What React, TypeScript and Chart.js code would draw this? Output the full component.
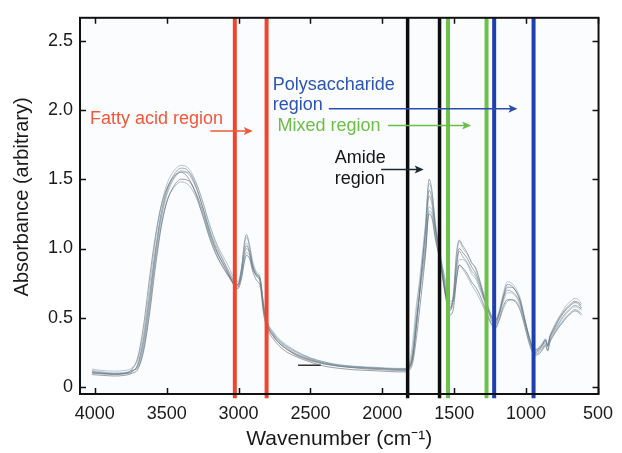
import React, { useEffect, useRef } from 'react';
import { Chart, registerables } from 'chart.js';

Chart.register(...registerables);

// ---------- data ----------
const WAVENUMBERS = [
  4020, 3950, 3870, 3790, 3740, 3700, 3660, 3620, 3580, 3540, 3500, 3450, 3400, 3350, 3300,
  3250, 3200, 3150, 3100, 3060, 3030, 3005, 2980, 2960, 2945, 2925, 2900, 2875, 2850, 2825,
  2800, 2760, 2720, 2660, 2600, 2500, 2400, 2300, 2200, 2100, 2000, 1900, 1840, 1815, 1790,
  1760, 1730, 1700, 1675, 1655, 1630, 1605, 1580, 1555, 1530, 1505, 1485, 1465, 1440, 1410,
  1380, 1350, 1320, 1290, 1260, 1235, 1215, 1190, 1160, 1130, 1100, 1070, 1040, 1010, 980,
  955, 935, 910, 885, 865, 850, 835, 810, 780, 750, 720, 690, 660, 635, 615,
];

const SPECTRUM_1 = [
  0.11, 0.10, 0.095, 0.10, 0.115, 0.16, 0.33, 0.62, 0.95, 1.22, 1.40, 1.51, 1.56, 1.54, 1.45,
  1.30, 1.13, 1.00, 0.90, 0.82, 0.76, 0.74, 0.82, 0.95, 1.00, 0.97, 0.86, 0.80, 0.76, 0.55,
  0.45, 0.38, 0.33, 0.28, 0.24, 0.20, 0.17, 0.15, 0.14, 0.135, 0.13, 0.125, 0.125, 0.14, 0.22,
  0.50, 0.78, 1.05, 1.38, 1.32, 1.12, 0.98, 0.82, 0.66, 0.56, 0.62, 0.85, 0.98, 0.94, 0.90,
  0.84, 0.80, 0.72, 0.63, 0.55, 0.49, 0.47, 0.52, 0.63, 0.70, 0.69, 0.66, 0.60, 0.48, 0.36,
  0.28, 0.26, 0.27, 0.30, 0.33, 0.29, 0.35, 0.40, 0.45, 0.50, 0.54, 0.57, 0.59, 0.58, 0.56,
];

const SPECTRUM_2 = [
  0.13, 0.12, 0.115, 0.12, 0.14, 0.20, 0.40, 0.72, 1.05, 1.30, 1.46, 1.56, 1.60, 1.58, 1.49,
  1.34, 1.17, 1.03, 0.93, 0.85, 0.78, 0.76, 0.86, 1.02, 1.08, 1.02, 0.90, 0.83, 0.79, 0.58,
  0.47, 0.40, 0.35, 0.30, 0.26, 0.21, 0.18, 0.16, 0.15, 0.145, 0.14, 0.135, 0.135, 0.15, 0.26,
  0.58, 0.88, 1.18, 1.47, 1.40, 1.18, 1.02, 0.85, 0.68, 0.58, 0.66, 0.92, 1.05, 1.00, 0.96,
  0.90, 0.85, 0.76, 0.66, 0.57, 0.50, 0.48, 0.54, 0.67, 0.76, 0.75, 0.71, 0.64, 0.50, 0.37,
  0.29, 0.27, 0.29, 0.32, 0.35, 0.31, 0.37, 0.43, 0.49, 0.54, 0.59, 0.62, 0.64, 0.63, 0.60,
];

const SPECTRUM_3 = [
  0.09, 0.085, 0.08, 0.085, 0.10, 0.13, 0.26, 0.52, 0.85, 1.14, 1.33, 1.45, 1.50, 1.49, 1.41,
  1.27, 1.10, 0.97, 0.87, 0.79, 0.73, 0.71, 0.78, 0.90, 0.95, 0.93, 0.83, 0.77, 0.73, 0.52,
  0.42, 0.35, 0.30, 0.25, 0.22, 0.18, 0.15, 0.135, 0.125, 0.12, 0.115, 0.11, 0.11, 0.12, 0.17,
  0.38, 0.66, 0.95, 1.25, 1.22, 1.06, 0.94, 0.78, 0.62, 0.52, 0.57, 0.76, 0.88, 0.86, 0.82,
  0.76, 0.72, 0.66, 0.58, 0.50, 0.45, 0.43, 0.48, 0.58, 0.63, 0.63, 0.61, 0.55, 0.44, 0.32,
  0.25, 0.23, 0.24, 0.27, 0.30, 0.26, 0.32, 0.37, 0.42, 0.46, 0.50, 0.53, 0.55, 0.54, 0.52,
];

const SPECTRUM_4 = [
  0.12, 0.11, 0.10, 0.105, 0.12, 0.14, 0.28, 0.56, 0.92, 1.20, 1.38, 1.50, 1.55, 1.55, 1.48,
  1.34, 1.16, 1.02, 0.90, 0.81, 0.75, 0.73, 0.84, 1.00, 1.04, 0.99, 0.87, 0.81, 0.77, 0.60,
  0.47, 0.39, 0.34, 0.29, 0.25, 0.205, 0.175, 0.155, 0.145, 0.14, 0.135, 0.13, 0.13, 0.16, 0.32,
  0.62, 0.80, 1.00, 1.30, 1.28, 1.10, 0.95, 0.84, 0.70, 0.60, 0.64, 0.80, 0.92, 0.92, 0.89,
  0.82, 0.78, 0.70, 0.62, 0.54, 0.48, 0.46, 0.51, 0.61, 0.68, 0.68, 0.65, 0.59, 0.47, 0.35,
  0.27, 0.25, 0.26, 0.29, 0.32, 0.30, 0.34, 0.39, 0.44, 0.49, 0.53, 0.56, 0.58, 0.57, 0.55,
];

const SPECTRUM_5 = [
  0.10, 0.095, 0.09, 0.095, 0.11, 0.17, 0.36, 0.66, 0.98, 1.25, 1.42, 1.53, 1.58, 1.56, 1.46,
  1.30, 1.12, 0.98, 0.88, 0.80, 0.74, 0.72, 0.84, 1.04, 1.10, 1.03, 0.88, 0.82, 0.78, 0.56,
  0.44, 0.37, 0.32, 0.27, 0.23, 0.19, 0.165, 0.15, 0.14, 0.13, 0.125, 0.12, 0.12, 0.13, 0.20,
  0.46, 0.80, 1.15, 1.50, 1.42, 1.16, 1.00, 0.80, 0.64, 0.55, 0.68, 0.96, 1.06, 1.02, 0.97,
  0.90, 0.86, 0.76, 0.64, 0.54, 0.47, 0.45, 0.51, 0.64, 0.72, 0.72, 0.69, 0.62, 0.49, 0.36,
  0.28, 0.25, 0.27, 0.31, 0.34, 0.30, 0.36, 0.42, 0.48, 0.53, 0.57, 0.60, 0.62, 0.61, 0.59,
];

const SPECTRUM_6 = [
  0.115, 0.105, 0.10, 0.10, 0.12, 0.15, 0.30, 0.58, 0.90, 1.16, 1.34, 1.44, 1.48, 1.46, 1.38,
  1.24, 1.08, 0.95, 0.85, 0.78, 0.74, 0.73, 0.80, 0.92, 0.97, 0.95, 0.85, 0.80, 0.76, 0.57,
  0.46, 0.39, 0.34, 0.29, 0.255, 0.21, 0.18, 0.16, 0.15, 0.14, 0.135, 0.13, 0.13, 0.145, 0.24,
  0.52, 0.74, 0.98, 1.27, 1.25, 1.08, 0.96, 0.86, 0.74, 0.62, 0.63, 0.78, 0.88, 0.85, 0.80,
  0.74, 0.69, 0.63, 0.56, 0.49, 0.44, 0.42, 0.47, 0.56, 0.62, 0.63, 0.62, 0.57, 0.46, 0.34,
  0.26, 0.24, 0.25, 0.28, 0.31, 0.27, 0.33, 0.38, 0.43, 0.47, 0.51, 0.54, 0.56, 0.55, 0.53,
];

const SPECTRUM_7 = [
  0.105, 0.10, 0.095, 0.10, 0.13, 0.22, 0.45, 0.78, 1.08, 1.30, 1.43, 1.52, 1.55, 1.51, 1.40,
  1.24, 1.07, 0.94, 0.85, 0.79, 0.75, 0.74, 0.85, 0.98, 1.02, 0.98, 0.86, 0.81, 0.78, 0.58,
  0.45, 0.37, 0.32, 0.27, 0.235, 0.195, 0.17, 0.155, 0.145, 0.14, 0.135, 0.13, 0.13, 0.14, 0.21,
  0.48, 0.82, 1.12, 1.42, 1.36, 1.14, 0.99, 0.81, 0.65, 0.57, 0.65, 0.88, 1.00, 0.97, 0.93,
  0.87, 0.82, 0.74, 0.64, 0.56, 0.50, 0.48, 0.53, 0.65, 0.74, 0.73, 0.69, 0.62, 0.49, 0.37,
  0.29, 0.27, 0.28, 0.31, 0.34, 0.30, 0.36, 0.41, 0.47, 0.52, 0.56, 0.59, 0.61, 0.60, 0.57,
];

const ARTIFACT_WAVENUMBERS = [2586, 2428];
const ARTIFACT_VALUES = [0.157, 0.157];

// region boundary lines (cm-1)
const FATTY_ACID_LINES = [3026, 2805];
const AMIDE_LINES = [1824, 1602];
const MIXED_LINES = [1543, 1275];
const POLYSACCHARIDE_LINES = [1222, 948];

// axis ticks
const X_TICKS = [4000, 3500, 3000, 2500, 2000, 1500, 1000, 500];
const Y_TICKS = [0, 0.5, 1.0, 1.5, 2.0, 2.5];

const X_MIN = 496;
const X_MAX = 4103;
const Y_MIN = -0.05;
const Y_MAX = 2.665;
const LINE_FOOT = -0.08;

// annotation texts: label, wavenumber (left edge), absorbance (centre)
const ANNOTATION_LABELS = ['Fatty acid region', 'Polysaccharide', 'region', 'Mixed region', 'Amide', 'region'];
const ANNOTATION_X = [4034, 2763, 2763, 2729, 2331, 2331];
const ANNOTATION_Y = [1.938, 2.183, 2.033, 1.883, 1.653, 1.498];
const ANNOTATION_GROUP = ['fatty', 'poly', 'poly', 'mixed', 'amide', 'amide'];

// arrows: from wavenumber, to wavenumber, absorbance
const ARROW_FROM = [3196, 2372, 1960, 2008];
const ARROW_TO = [2901, 1060, 1382, 1712];
const ARROW_Y = [1.848, 2.009, 1.888, 1.57];
const ARROW_GROUP = ['fatty', 'poly', 'mixed', 'amide'];

// ---------- styles ----------
const FONT = '"Liberation Sans", Arial, Helvetica, sans-serif';
const TEXT_COLORS: Record<string, string> = {
  fatty: '#f0573b',
  poly: '#2b54b3',
  mixed: '#6cbf46',
  amide: '#151515',
};
const LINE_COLORS: Record<string, string> = {
  fatty: '#ee4530',
  poly: '#1f3fae',
  mixed: '#6dc14b',
  amide: '#0d0d0d',
};
const ARROW_COLORS: Record<string, string> = {
  fatty: '#f0573b',
  poly: '#2b4fb0',
  mixed: '#6cbf46',
  amide: '#1a2a30',
};
const SPECTRUM_COLORS = [
  'rgba(100,116,126,0.6)',
  'rgba(120,150,170,0.6)',
  'rgba(70,80,88,0.6)',
  'rgba(130,160,180,0.6)',
  'rgba(88,98,106,0.6)',
  'rgba(110,140,158,0.6)',
  'rgba(60,68,74,0.55)',
];

const framePlugin = {
  id: 'frameAndNotes',
  beforeDatasetsDraw(chart: any) {
    const { ctx, chartArea: a } = chart;
    ctx.save();
    ctx.fillStyle = '#fbfcfe';
    ctx.fillRect(a.left, a.top, a.right - a.left, a.bottom - a.top);
    ctx.restore();
  },
  afterDraw(chart: any) {
    const { ctx, chartArea: a, scales } = chart;
    const xs = scales.x;
    const ys = scales.y;
    ctx.save();
    // frame
    ctx.strokeStyle = '#111';
    ctx.lineWidth = 2;
    ctx.strokeRect(a.left, a.top, a.right - a.left, a.bottom - a.top);
    // inward ticks on all sides
    ctx.lineWidth = 1.5;
    const tl = 6;
    ctx.beginPath();
    X_TICKS.forEach((v) => {
      const px = Math.round(xs.getPixelForValue(v)) + 0.5;
      ctx.moveTo(px, a.bottom);
      ctx.lineTo(px, a.bottom - tl);
      ctx.moveTo(px, a.top);
      ctx.lineTo(px, a.top + tl);
    });
    Y_TICKS.forEach((v) => {
      const py = Math.round(ys.getPixelForValue(v)) + 0.5;
      ctx.moveTo(a.left, py);
      ctx.lineTo(a.left + tl, py);
      ctx.moveTo(a.right, py);
      ctx.lineTo(a.right - tl, py);
    });
    ctx.stroke();

    // annotations
    ctx.font = `18px ${FONT}`;
    ctx.textAlign = 'left';
    ctx.textBaseline = 'middle';
    ANNOTATION_LABELS.forEach((label, i) => {
      ctx.fillStyle = TEXT_COLORS[ANNOTATION_GROUP[i]];
      ctx.fillText(label, xs.getPixelForValue(ANNOTATION_X[i]), ys.getPixelForValue(ANNOTATION_Y[i]));
    });
    ARROW_FROM.forEach((from, i) => {
      const x1 = xs.getPixelForValue(from);
      const x2 = xs.getPixelForValue(ARROW_TO[i]);
      const y = ys.getPixelForValue(ARROW_Y[i]);
      const c = ARROW_COLORS[ARROW_GROUP[i]];
      ctx.strokeStyle = c;
      ctx.fillStyle = c;
      ctx.lineWidth = 1.5;
      ctx.beginPath();
      ctx.moveTo(x1, y);
      ctx.lineTo(x2 - 6, y);
      ctx.stroke();
      ctx.beginPath();
      ctx.moveTo(x2, y);
      ctx.lineTo(x2 - 9, y - 4);
      ctx.lineTo(x2 - 7, y);
      ctx.lineTo(x2 - 9, y + 4);
      ctx.closePath();
      ctx.fill();
    });

    // y axis title
    ctx.fillStyle = '#1a1a1a';
    ctx.font = `20px ${FONT}`;
    ctx.textAlign = 'center';
    ctx.textBaseline = 'middle';
    ctx.translate(a.left - 58, (a.top + a.bottom) / 2 - 9);
    ctx.rotate(-Math.PI / 2);
    ctx.fillText('Absorbance (arbitrary)', 0, 0);
    ctx.restore();
  },
};

export default function App() {
  const ref = useRef<HTMLCanvasElement>(null);

  useEffect(() => {
    document.body.style.margin = '0';
    const canvas = ref.current;
    if (!canvas) return;

    const datasets: any[] = [];
    const addLines = (list: number[], group: string) => {
      list.forEach((w) => {
        datasets.push({
          data: [
            { x: w, y: LINE_FOOT },
            { x: w, y: Y_MAX },
          ],
          borderColor: LINE_COLORS[group],
          borderWidth: group === 'amide' ? 3.5 : 4,
          borderCapStyle: 'butt',
          pointRadius: 0,
          order: 0,
          clip: { left: 0, top: 0, right: 0, bottom: 5 },
        });
      });
    };
    addLines(FATTY_ACID_LINES, 'fatty');
    addLines(AMIDE_LINES, 'amide');
    addLines(MIXED_LINES, 'mixed');
    addLines(POLYSACCHARIDE_LINES, 'poly');

    const spectra = [SPECTRUM_1, SPECTRUM_2, SPECTRUM_3, SPECTRUM_4, SPECTRUM_5, SPECTRUM_6, SPECTRUM_7];
    spectra.forEach((s, i) => {
      datasets.push({
        data: WAVENUMBERS.map((w, j) => ({ x: w, y: s[j] })),
        borderColor: SPECTRUM_COLORS[i],
        borderWidth: 0.9,
        pointRadius: 0,
        cubicInterpolationMode: 'monotone',
        order: 1,
      });
    });
    datasets.push({
      data: ARTIFACT_WAVENUMBERS.map((w, j) => ({ x: w, y: ARTIFACT_VALUES[j] })),
      borderColor: '#333',
      borderWidth: 1.5,
      pointRadius: 0,
      order: 1,
    });

    const tickFont = { size: 18, family: FONT };
    const chart = new Chart(canvas, {
      type: 'line',
      data: { datasets },
      options: {
        animation: false,
        responsive: false,
        maintainAspectRatio: false,
        layout: { padding: { top: 13, right: 17, bottom: 0, left: 0 } },
        plugins: { legend: { display: false }, tooltip: { enabled: false } },
        scales: {
          x: {
            type: 'linear',
            reverse: true,
            min: X_MIN,
            max: X_MAX,
            afterBuildTicks: (s: any) => {
              s.ticks = X_TICKS.map((v) => ({ value: v }));
            },
            afterFit: (s: any) => {
              s.height = 59;
            },
            grid: { display: false, drawTicks: false },
            border: { display: false },
            ticks: {
              maxRotation: 0,
              minRotation: 0,
              autoSkip: false,
              padding: 9,
              color: '#1a1a1a',
              font: tickFont,
              callback: (v: any) => String(v),
            },
            title: {
              display: true,
              text: 'Wavenumber (cm\u207B\u00B9)',
              color: '#1a1a1a',
              font: { size: 21, family: FONT },
              padding: { top: 0, bottom: 1 },
            },
          },
          y: {
            type: 'linear',
            min: Y_MIN,
            max: Y_MAX,
            afterBuildTicks: (s: any) => {
              s.ticks = Y_TICKS.map((v) => ({ value: v }));
            },
            afterFit: (s: any) => {
              s.width = 80;
            },
            grid: { display: false, drawTicks: false },
            border: { display: false },
            ticks: {
              autoSkip: false,
              padding: 7,
              color: '#1a1a1a',
              font: tickFont,
              callback: (v: any) => (Number(v) === 0 ? '0' : Number(v).toFixed(1)),
            },
          },
        },
      } as any,
      plugins: [framePlugin],
    });
    return () => chart.destroy();
  }, []);

  return (
    <div style={{ position: 'absolute', left: 0, top: 0, width: 622, height: 453, background: '#fff' }}>
      <canvas ref={ref} width={622} height={453} style={{ display: 'block' }} />
    </div>
  );
}
